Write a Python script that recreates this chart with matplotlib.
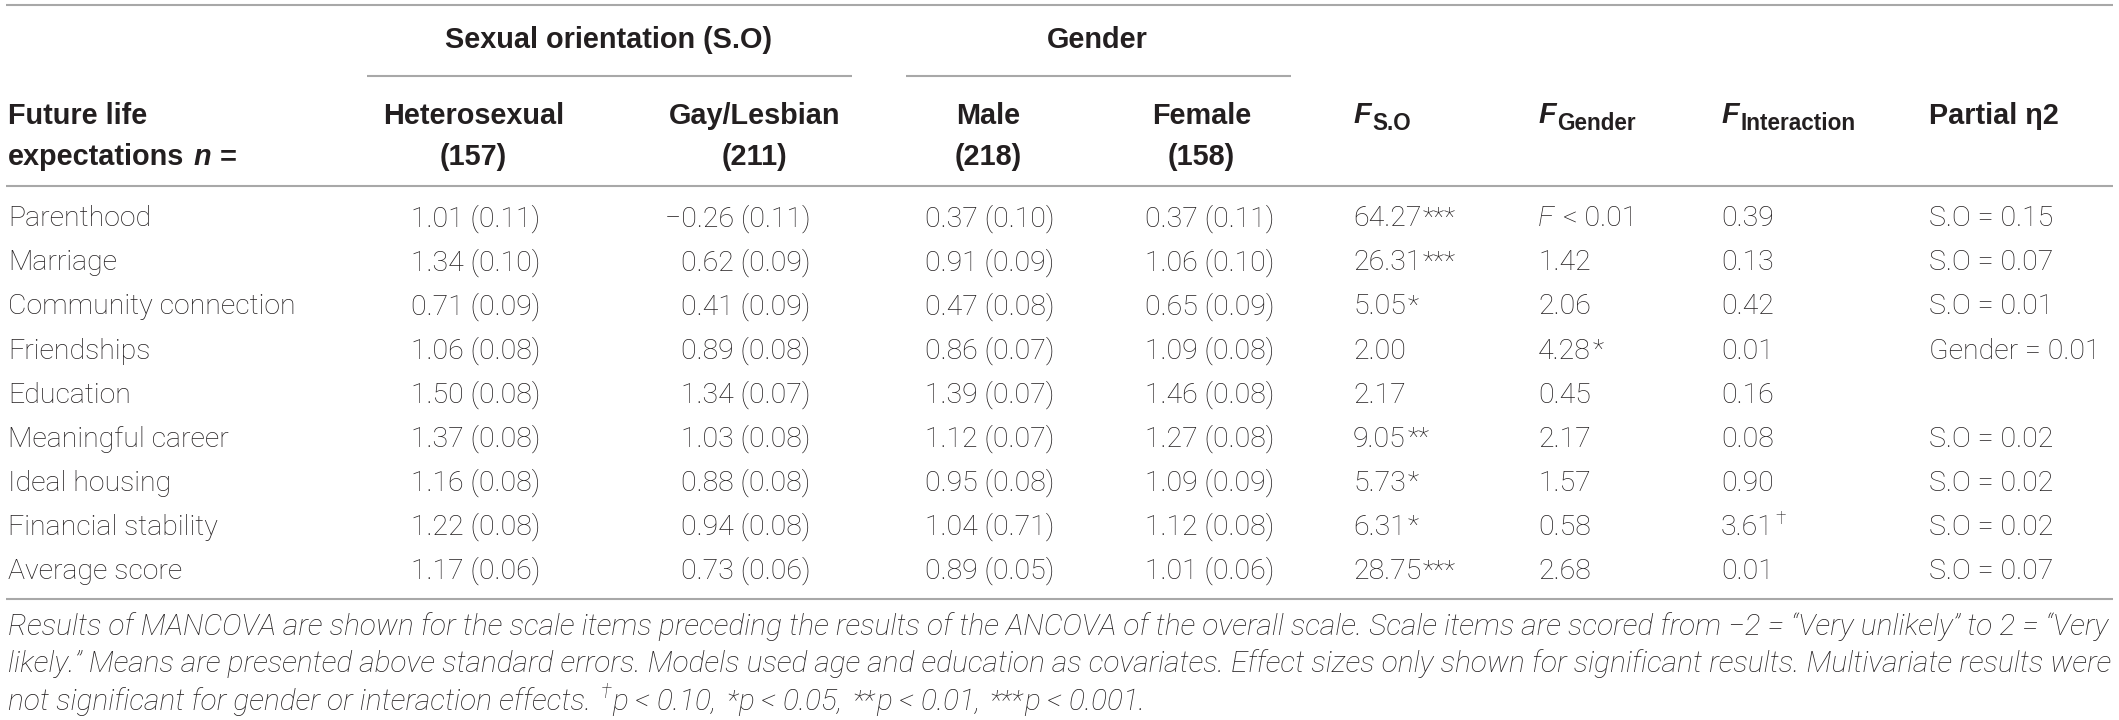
import matplotlib
matplotlib.use("Agg")
import matplotlib.pyplot as plt
from matplotlib import font_manager as fm

# table content
rows = ["Parenthood", "Marriage", "Community connection", "Friendships", "Education",
        "Meaningful career", "Ideal housing", "Financial stability", "Average score"]
het = ["1.01 (0.11)", "1.34 (0.10)", "0.71 (0.09)", "1.06 (0.08)", "1.50 (0.08)",
       "1.37 (0.08)", "1.16 (0.08)", "1.22 (0.08)", "1.17 (0.06)"]
gay = ["\u22120.26 (0.11)", "0.62 (0.09)", "0.41 (0.09)", "0.89 (0.08)", "1.34 (0.07)",
       "1.03 (0.08)", "0.88 (0.08)", "0.94 (0.08)", "0.73 (0.06)"]
male = ["0.37 (0.10)", "0.91 (0.09)", "0.47 (0.08)", "0.86 (0.07)", "1.39 (0.07)",
        "1.12 (0.07)", "0.95 (0.08)", "1.04 (0.71)", "0.89 (0.05)"]
female = ["0.37 (0.11)", "1.06 (0.10)", "0.65 (0.09)", "1.09 (0.08)", "1.46 (0.08)",
          "1.27 (0.08)", "1.09 (0.09)", "1.12 (0.08)", "1.01 (0.06)"]
f_so = ["64.27***", "26.31***", "5.05*", "2.00", "2.17", "9.05**", "5.73*", "6.31*", "28.75***"]
f_gender = ["F < 0.01", "1.42", "2.06", "4.28*", "0.45", "2.17", "1.57", "0.58", "2.68"]
f_inter = ["0.39", "0.13", "0.42", "0.01", "0.16", "0.08", "0.90", "3.61\u2020", "0.01"]
eta = ["S.O = 0.15", "S.O = 0.07", "S.O = 0.01", "Gender = 0.01", "",
       "S.O = 0.02", "S.O = 0.02", "S.O = 0.02", "S.O = 0.07"]

groups = ["Sexual orientation (S.O)", "Gender"]
sub_heads = [("Heterosexual", "(157)"), ("Gay/Lesbian", "(211)"),
             ("Male", "(218)"), ("Female", "(158)")]
f_heads = ["S.O", "Gender", "Interaction"]

note1 = ("Results of MANCOVA are shown for the scale items preceding the results of the ANCOVA "
         "of the overall scale. Scale items are scored from \u22122 = \u201cVery unlikely\u201d to 2 = \u201cVery")
note2 = ("likely.\u201d Means are presented above standard errors. Models used age and education as "
         "covariates. Effect sizes only shown for significant results. Multivariate results were")
note3 = [("not significant for gender or interaction effects. ", ""), ("\u2020", "sup"),
         ("p < 0.10, ", ""), ("*", "ast"), ("p < 0.05, ", ""), ("**", "ast"),
         ("p < 0.01, ", ""), ("***", "ast"), ("p < 0.001.", "")]

names = {f.name for f in fm.fontManager.ttflist}
HEAD = "Liberation Sans Narrow" if "Liberation Sans Narrow" in names else "Liberation Sans"
BODY = "Roboto" if "Roboto" in names else "DejaVu Sans"
INK = "#231f20"
RULE = "#a8a8a8"

W, H = 2119, 720
fig = plt.figure(figsize=(W / 100, H / 100), dpi=100)
ax = fig.add_axes([0, 0, 1, 1])
ax.set_xlim(0, W)
ax.set_ylim(H, 0)
ax.axis("off")
rend = fig.canvas.get_renderer()


def rich(x, y, runs, size, ha="left", family=BODY, weight="light", style="normal",
         sub_scale=0.66, sub_drop=0.28):
    # runs: list of (text, role); role in "", "sup", "sub", "it", "ast"
    px = size * 100 / 72
    arts = []
    cur = x
    for s, role in runs:
        lead = len(s) - len(s.lstrip(" "))
        trail = len(s) - len(s.rstrip(" "))
        core = s.strip(" ")
        cur += lead * 0.26 * px
        fs = size
        dy = 0
        if role == "sup":
            fs, dy = size * 0.66, -0.38 * px
        elif role == "sub":
            fs, dy = size * sub_scale, sub_drop * px
        elif role == "ast":
            fs, dy = size * 0.92, -0.02 * px
        st = "italic" if role == "it" else style
        if core:
            t = ax.text(cur, y + dy, core, fontsize=fs, family=family, weight=weight,
                        style=st, color=INK, ha="left", va="baseline")
            w = t.get_window_extent(rend).width
            arts.append(t)
            cur += w + 1.5
        cur += trail * 0.26 * px
    total = cur - x
    if ha != "left":
        shift = total if ha == "right" else total / 2
        for t in arts:
            t.set_x(t.get_position()[0] - shift)
    return total


def split_marks(s):
    core = s.rstrip("*\u2020")
    runs = []
    if core.startswith("F "):
        runs += [("F", "it"), (core[1:], "")]
    else:
        runs.append((core, ""))
    tail = s[len(core):]
    if tail:
        runs.append((tail, "sup" if "\u2020" in tail else "ast"))
    return runs


def hline(y, x0, x1):
    ax.plot([x0, x1], [y, y], color=RULE, lw=1.5, solid_capstyle="butt")


SZ = 20.5
HSZ = 20.8
cap = 0.72 * SZ * 100 / 72 / 2

# rules
hline(5, 6, 2113)
hline(76, 367, 852)
hline(76, 906, 1291)
hline(186, 6, 2113)
hline(599, 6, 2113)

# group headings
for g, cx in zip(groups, [609, 1098]):
    rich(cx, 38 + cap, [(g, "")], HSZ, ha="center", family=HEAD, weight="bold")

# row-label heading
rich(8, 114 + cap, [("Future life", "")], HSZ, family=HEAD, weight="bold")
rich(8, 155 + cap, [("expectations ", ""), ("n", "it"), (" =", "")], HSZ,
     family=HEAD, weight="bold")

sub_cx = [474, 755, 989, 1202]
for (a, b), cx in zip(sub_heads, sub_cx):
    rich(cx, 114 + cap, [(a, "")], HSZ, ha="center", family=HEAD, weight="bold")
    rich(cx, 155 + cap, [(b, "")], HSZ, ha="center", family=HEAD, weight="bold")

f_x = [1353, 1538, 1721]
for h, x in zip(f_heads, f_x):
    rich(x, 123, [("F", "it"), (h, "sub")], HSZ, family=HEAD, weight="bold",
         sub_scale=0.78, sub_drop=0.25)
rich(1929, 114 + cap, [("Partial \u03b72", "")], HSZ, family=HEAD, weight="bold")

# body
right_x = [542, 812, 1056, 1276]
for i, name in enumerate(rows):
    y = 216 + 44.1 * i + cap
    rich(8, y, [(name, "")], SZ)
    for col, rx in zip([het, gay, male, female], right_x):
        rich(rx, y, [(col[i], "")], SZ, ha="right")
    for col, x in zip([f_so, f_gender, f_inter], f_x):
        rich(x, y, split_marks(col[i]), SZ)
    if eta[i]:
        rich(1929, y, [(eta[i], "")], SZ)

# footnote, sized to span the table width
NSZ = 19
probe = ax.text(0, 0, note1, fontsize=NSZ, family=BODY, weight="light", style="italic")
nw = probe.get_window_extent(rend).width
probe.remove()
NSZ = NSZ * 2098 / nw
ncap = 0.72 * NSZ * 100 / 72 / 2
for k, line in enumerate([[(note1, "")], [(note2, "")], note3]):
    rich(8, 624 + 37.5 * k + ncap, line, NSZ, style="italic")

fig.savefig("out.png", dpi=100)
